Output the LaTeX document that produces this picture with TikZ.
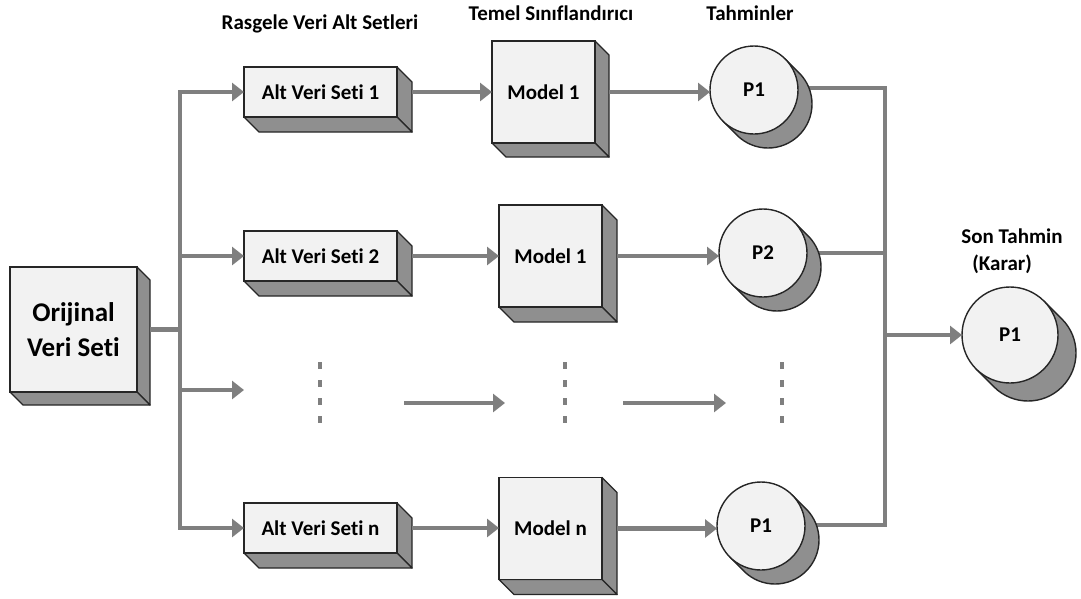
\documentclass[tikz,border=0pt]{standalone}
\usepackage{fontspec}
\setmainfont{Carlito}[Ligatures=NoCommon]
\usetikzlibrary{arrows.meta,calc}
\pgfdeclarelayer{wires}
\pgfdeclarelayer{shade}
\pgfsetlayers{wires,shade,main}
\definecolor{facefill}{HTML}{F2F2F2}
\definecolor{sidefill}{HTML}{8F8F8F}
\definecolor{edge}{HTML}{262626}
\definecolor{wire}{HTML}{7F7F7F}
\tikzset{
  face/.style={draw=edge, fill=facefill, line width=1.4pt, inner sep=0pt, outer sep=0pt,
    font=\fontsize{21}{25}\selectfont\bfseries},
  setbox/.style={face, rectangle, minimum width=153pt, minimum height=50pt},
  modelbox/.style={face, rectangle, minimum width=103pt, minimum height=102pt},
  predcirc/.style={face, circle, minimum size=88pt},
  sidepart/.style={draw=edge, fill=sidefill, line width=1.4pt, line join=round},
  wireline/.style={draw=wire, line width=4.5pt},
  trunk/.style={wireline, line cap=rect},
  flow/.style={wireline, -{Triangle[length=12pt,width=18pt]}},
  dots/.style={draw=wire, line width=4pt, dash pattern=on 7pt off 11pt},
  heading/.style={font=\fontsize{21}{27}\selectfont\bfseries, inner sep=0pt},
}
% right and bottom faces of a box node (name, depth)
\newcommand\extrude[2]{%
  \begin{pgfonlayer}{shade}
  \draw[sidepart] (#1.north east) -- ([shift={(#2,#2)}]#1.north east)
    -- ([shift={(#2,#2)}]#1.south east) -- (#1.south east) -- cycle;
  \draw[sidepart] (#1.south west) -- ([shift={(#2,#2)}]#1.south west)
    -- ([shift={(#2,#2)}]#1.south east) -- (#1.south east) -- cycle;
  \end{pgfonlayer}}
% disc body behind a circle node (name, radius, depth)
\newcommand\discbody[3]{%
  \begin{pgfonlayer}{shade}
  \draw[sidepart] ($(#1.center)+(-45:#2)$) -- ($(#1.center)+(#3,#3)+(-45:#2)$)
    arc[start angle=-45, end angle=135, radius=#2]
    -- ($(#1.center)+(135:#2)$) -- cycle;
  \end{pgfonlayer}}
\begin{document}
\begin{tikzpicture}[x=1pt,y=-1pt]
\useasboundingbox (0,0) rectangle (1081,598);

% column headings
\node[heading] (hsets) at (320,24) {Rasgele Veri Alt Setleri};
\node[heading] (hbase) at (551,13) {Temel Sınıflandırıcı};
\node[heading] (hpred) at (750,13) {Tahminler};
\node[heading, align=left] (hfinal) at (1012,251) {Son Tahmin\\\hspace*{11pt}(Karar)};

% original data set
\node[face, rectangle, minimum width=127pt, minimum height=125pt, align=center,
  font=\fontsize{27}{35}\selectfont\bfseries] (src) at (73.5,329.5) {Orijinal\\Veri Seti};
\extrude{src}{13}

% random subsets
\node[setbox] (s1) at (320.5,92) {Alt Veri Seti 1};
\node[setbox] (s2) at (320.5,256) {Alt Veri Seti 2};
\node[setbox] (sn) at (320.5,528) {Alt Veri Seti n};
\extrude{s1}{15}
\extrude{s2}{15}
\extrude{sn}{15}

% base classifiers
\node[modelbox] (m1) at (543.5,92) {Model 1};
\node[modelbox] (m2) at (550.5,256) {Model 1};
\node[modelbox] (mn) at (550.5,528.5) {Model n};
\extrude{m1}{14}
\extrude{m2}{15}
\extrude{mn}{15}

% predictions
\node[predcirc] (p1) at (754,90) {P1};
\node[predcirc] (p2) at (763,253) {P2};
\node[predcirc] (pn) at (761,526) {P1};
\discbody{p1}{44}{14}
\discbody{p2}{44}{14}
\discbody{pn}{44}{14}

% final prediction
\node[face, circle, minimum size=96pt] (fin) at (1010,335) {P1};
\discbody{fin}{48}{18}

% bus lines
\coordinate (lx) at (180,0);
\coordinate (rx) at (885,0);
\coordinate (d1) at (244,390);
\draw[trunk] (s1.west -| lx) -- (sn.west -| lx);
\draw[wireline] ([xshift=13pt]src.east) -- (src.east -| lx);
\draw[flow] (s1.west -| lx) -- (s1.west);
\draw[flow] (s2.west -| lx) -- (s2.west);
\draw[flow] (d1 -| lx) -- (d1);
\draw[flow] (sn.west -| lx) -- (sn.west);

% subsets to models
\draw[flow] ([xshift=15pt]s1.east) -- (m1.west);
\draw[flow] ([xshift=15pt]s2.east) -- (m2.west);
\draw[flow] ([xshift=15pt]sn.east) -- (sn.east -| mn.west);

% models to predictions
\draw[flow] ([xshift=14pt]m1.east) -- (m1.east -| p1.west);
\draw[flow] ([xshift=15pt]m2.east) -- (m2.east -| p2.west);
\draw[flow] ([xshift=15pt]mn.east) -- (mn.east -| pn.west);

% predictions to the vote
\begin{pgfonlayer}{wires}
\draw[wireline] ([yshift=2pt]p1.center) -- ([yshift=2pt]p1.center -| rx);
\draw[wireline] (p2.center) -- (p2.center -| rx);
\draw[wireline] ([yshift=1pt]pn.center) -- ([yshift=1pt]pn.center -| rx);
\end{pgfonlayer}
\draw[trunk] ([yshift=2pt]p1.center -| rx) -- ([yshift=1pt]pn.center -| rx);
\draw[flow] (fin.west -| rx) -- (fin.west);

% elided rows
\coordinate (e1s) at (404,403);
\coordinate (e1e) at (505,403);
\coordinate (e2s) at (623,403);
\coordinate (e2e) at (726,403);
\draw[flow] (e1s) -- (e1e);
\draw[flow] (e2s) -- (e2e);
\draw[dots] (320,362) -- (320,425);
\draw[dots] (565,362) -- (565,425);
\draw[dots] (782,362) -- (782,425);
\end{tikzpicture}
\end{document}
